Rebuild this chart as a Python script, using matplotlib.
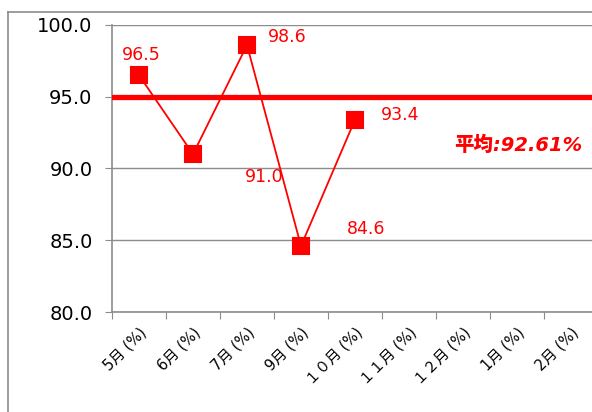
import matplotlib.pyplot as plt
from matplotlib.lines import Line2D

plt.rcParams["font.family"] = ["DejaVu Sans", "Noto Sans CJK JP"]

months = ["5月 (%)", "6月 (%)", "7月 (%)", "9月 (%)", "１０月 (%)",
          "１１月 (%)", "１２月 (%)", "1月 (%)", "2月 (%)"]
values = [96.5, 91.0, 98.6, 84.6, 93.4]
target = 95.0
average_text = "平均:92.61%"
y_ticks = [80, 85, 90, 95, 100]

RED = "#ff0000"
GRID = "#8c8c8c"

fig = plt.figure(figsize=(5.92, 4.12), dpi=100)
ax = fig.add_axes([112 / 592, 1 - 312 / 412, (598 - 112) / 592, (312 - 25) / 412])

# outer chart-area border (cropped on right and bottom)
fig.add_artist(Line2D([8 / 592, 8 / 592], [0, 1 - 12 / 412], color=GRID, lw=1.2, transform=fig.transFigure))
fig.add_artist(Line2D([8 / 592, 1], [1 - 12 / 412, 1 - 12 / 412], color=GRID, lw=1.2, transform=fig.transFigure))

x = list(range(len(values)))
ax.axhline(target, color=RED, lw=3.8, zorder=3)
ax.plot(x, values, color=RED, lw=1.3, zorder=4)
ax.plot(x, values, linestyle="none", marker="s", markersize=11.5, color=RED,
        markeredgecolor=RED, markeredgewidth=1.5, zorder=5)

# label offsets relative to each point (category units, value units)
offsets = [(-0.31, 1.4), (0.96, -1.6), (0.39, 0.56), (0.85, 1.2), (0.48, 0.3)]
for xi, v, (dx, dy) in zip(x, values, offsets):
    ax.text(xi + dx, v + dy, f"{v:.1f}", color=RED, fontsize=12.5,
            ha="left", va="center", zorder=6)

ax.text(5.83, 91.6, average_text, color=RED, fontsize=14, fontweight="heavy",
        ha="left", va="center", style="italic")

ax.set_xlim(-0.5, len(months) - 0.5)
ax.set_ylim(80, 100)
ax.set_yticks(y_ticks)
ax.set_yticklabels([f"{t:.1f}" for t in y_ticks], fontsize=14)
ax.set_xticks([i + 0.5 for i in range(-1, len(months))], minor=False)
ax.set_xticklabels([""] * (len(months) + 1))
ax.set_xticks(range(len(months)), minor=True)
ax.set_xticklabels(months, minor=True, rotation=45, ha="right", va="top",
                   fontsize=10.5, rotation_mode="anchor")
ax.tick_params(axis="x", which="minor", length=0, pad=9)
ax.tick_params(axis="x", which="major", length=5, color=GRID, direction="out")
ax.tick_params(axis="y", length=5, color=GRID, direction="out", pad=9)

ax.grid(axis="y", color=GRID, lw=1)
ax.set_axisbelow(True)
for side in ["top", "right"]:
    ax.spines[side].set_visible(False)
for side in ["left", "bottom"]:
    ax.spines[side].set_color(GRID)
    ax.spines[side].set_linewidth(1.2)

fig.savefig("out.png", dpi=100)
